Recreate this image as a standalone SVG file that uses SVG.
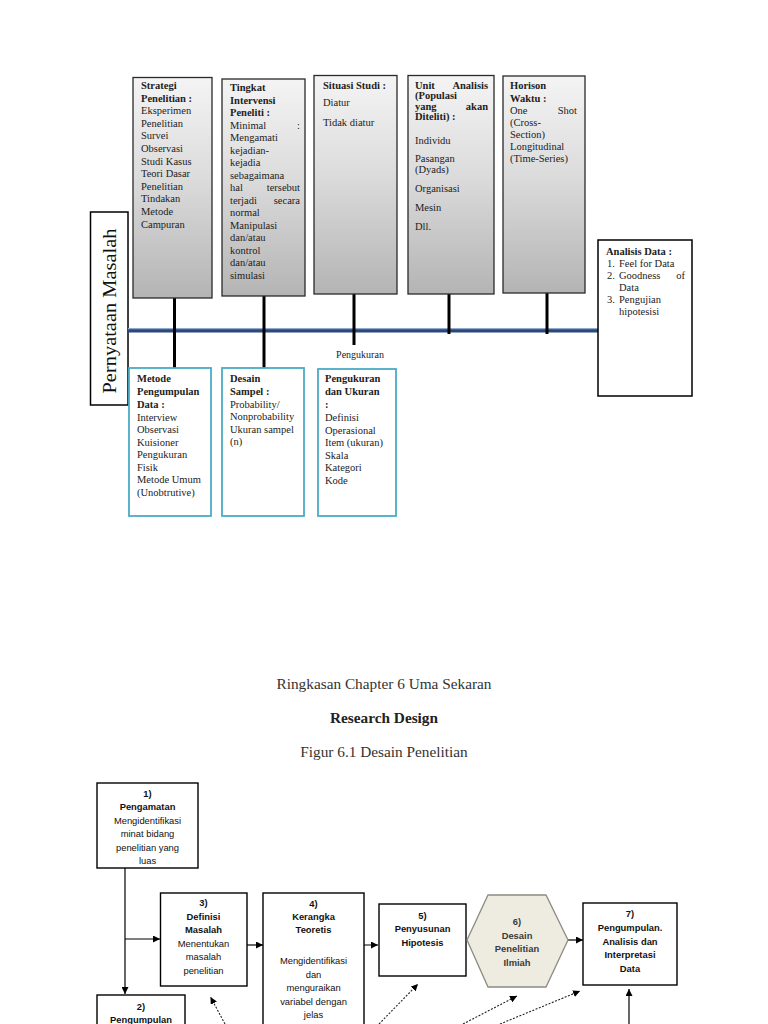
<svg xmlns="http://www.w3.org/2000/svg" width="768" height="1024" viewBox="0 0 768 1024">
<defs>
<linearGradient id="gbox" x1="0" y1="0" x2="0" y2="1">
<stop offset="0" stop-color="#f4f4f4"/>
<stop offset="0.45" stop-color="#dcdcdc"/>
<stop offset="1" stop-color="#b4b4b4"/>
</linearGradient>
<marker id="ah" viewBox="0 0 10 10" refX="10" refY="5" markerWidth="7" markerHeight="7" orient="auto" markerUnits="userSpaceOnUse">
<path d="M0,0 L10,5 L0,10 z" fill="#000"/>
</marker>
</defs>
<style>
.gb{fill:url(#gbox);stroke:#2a2a2a;stroke-width:1.3}
.wb{fill:#fff;stroke:#000;stroke-width:1.5}
.tb{fill:#fff;stroke:#4bacc6;stroke-width:1.8}
.t{font-family:"Liberation Serif","Times New Roman",serif;font-size:10.5px;fill:#222}
.b{font-weight:bold}
.vl{stroke:#000;stroke-width:3}
.fb{fill:#fff;stroke:#000;stroke-width:1.4}
.f{font-family:"Liberation Sans",Arial,sans-serif;font-size:9.4px;fill:#111;text-anchor:middle}
.fl{stroke:#000;stroke-width:1.2;fill:none}
.dl{stroke:#222;stroke-width:1.1;fill:none;stroke-dasharray:2 1.5}
.h{font-family:"Liberation Serif","Times New Roman",serif;font-size:15.3px;fill:#333;text-anchor:middle}
</style>

<g id="pernyataan">
<rect x="90.5" y="212" width="37.5" height="193" class="wb"/>
<text class="t" style="font-size:19px;fill:#111" text-anchor="middle" textLength="165" lengthAdjust="spacingAndGlyphs" transform="translate(116,311) rotate(-90)">Pernyataan Masalah</text>
</g>

<g id="connectors-top">
<rect x="128" y="328" width="470" height="4.5" fill="#2b4878"/>
<line x1="128" y1="328.6" x2="598" y2="328.6" stroke="#8fa9d2" stroke-width="1.2"/>
<line class="vl" x1="174.5" y1="298" x2="174.5" y2="368"/>
<line class="vl" x1="264" y1="296" x2="264" y2="368"/>
<line class="vl" x1="354" y1="294" x2="354" y2="345"/>
<line class="vl" x1="449" y1="294" x2="449" y2="334"/>
<line class="vl" x1="547" y1="293" x2="547" y2="334"/>
<text class="t" x="360" y="358" text-anchor="middle" style="font-size:10px">Pengukuran</text>
</g>

<g id="strategi">
<rect x="133" y="77.5" width="79" height="220.5" class="gb"/>
<text class="t b" x="141" y="89">Strategi</text>
<text class="t b" x="141" y="101.6">Penelitian :</text>
<text class="t" x="141" y="114.2">Eksperimen</text>
<text class="t" x="141" y="126.8">Penelitian</text>
<text class="t" x="141" y="139.4">Survei</text>
<text class="t" x="141" y="152">Observasi</text>
<text class="t" x="141" y="164.6">Studi Kasus</text>
<text class="t" x="141" y="177.2">Teori Dasar</text>
<text class="t" x="141" y="189.8">Penelitian</text>
<text class="t" x="141" y="202.4">Tindakan</text>
<text class="t" x="141" y="215">Metode</text>
<text class="t" x="141" y="227.6">Campuran</text>
</g>

<g id="tingkat">
<rect x="222" y="79" width="83" height="217" class="gb"/>
<text class="t b" x="230" y="91">Tingkat</text>
<text class="t b" x="230" y="103.5">Intervensi</text>
<text class="t b" x="230" y="116">Peneliti :</text>
<text class="t" x="230" y="128.5">Minimal</text><text class="t" x="300" y="128.5" text-anchor="end">:</text>
<text class="t" x="230" y="141">Mengamati</text>
<text class="t" x="230" y="153.5">kejadian-</text>
<text class="t" x="230" y="166">kejadia</text>
<text class="t" x="230" y="178.5">sebagaimana</text>
<text class="t" x="230" y="191">hal</text><text class="t" x="300" y="191" text-anchor="end">tersebut</text>
<text class="t" x="230" y="203.5">terjadi</text><text class="t" x="300" y="203.5" text-anchor="end">secara</text>
<text class="t" x="230" y="216">normal</text>
<text class="t" x="230" y="228.5">Manipulasi</text>
<text class="t" x="230" y="241">dan/atau</text>
<text class="t" x="230" y="253.5">kontrol</text>
<text class="t" x="230" y="266">dan/atau</text>
<text class="t" x="230" y="278.5">simulasi</text>
</g>

<g id="situasi">
<rect x="314" y="75.5" width="83" height="218.5" class="gb"/>
<text class="t b" x="323" y="89">Situasi Studi :</text>
<text class="t" x="323" y="106">Diatur</text>
<text class="t" x="323" y="126">Tidak diatur</text>
</g>

<g id="unit">
<rect x="408" y="75.5" width="86" height="218.5" class="gb"/>
<text class="t b" x="415" y="88.5">Unit</text><text class="t b" x="488" y="88.5" text-anchor="end">Analisis</text>
<text class="t b" x="415" y="99">(Populasi</text>
<text class="t b" x="415" y="109.5">yang</text><text class="t b" x="488" y="109.5" text-anchor="end">akan</text>
<text class="t b" x="415" y="120">Diteliti) :</text>
<text class="t" x="415" y="144">Individu</text>
<text class="t" x="415" y="162">Pasangan</text>
<text class="t" x="415" y="173">(Dyads)</text>
<text class="t" x="415" y="192">Organisasi</text>
<text class="t" x="415" y="211">Mesin</text>
<text class="t" x="415" y="229.5">Dll.</text>
</g>

<g id="horison">
<rect x="503" y="76" width="82" height="217" class="gb"/>
<text class="t b" x="510" y="89">Horison</text>
<text class="t b" x="510" y="101.5">Waktu :</text>
<text class="t" x="510" y="114">One</text><text class="t" x="577" y="114" text-anchor="end">Shot</text>
<text class="t" x="510" y="126">(Cross-</text>
<text class="t" x="510" y="138">Section)</text>
<text class="t" x="510" y="150">Longitudinal</text>
<text class="t" x="510" y="162">(Time-Series)</text>
</g>

<g id="analisis">
<rect x="598" y="240" width="94" height="156" class="wb"/>
<text class="t b" x="606" y="255">Analisis Data :</text>
<text class="t" x="607" y="266.5">1.</text><text class="t" x="619" y="266.5">Feel for Data</text>
<text class="t" x="607" y="278.5">2.</text><text class="t" x="619" y="278.5">Goodness</text><text class="t" x="685" y="278.5" text-anchor="end">of</text>
<text class="t" x="619" y="290.5">Data</text>
<text class="t" x="607" y="302.5">3.</text><text class="t" x="619" y="302.5">Pengujian</text>
<text class="t" x="619" y="314.5">hipotesisi</text>
</g>

<g id="metode">
<rect x="129" y="368" width="82" height="148" class="tb"/>
<text class="t b" x="137" y="382">Metode</text>
<text class="t b" x="137" y="395">Pengumpulan</text>
<text class="t b" x="137" y="408">Data :</text>
<text class="t" x="137" y="420.5">Interview</text>
<text class="t" x="137" y="433">Observasi</text>
<text class="t" x="137" y="445.5">Kuisioner</text>
<text class="t" x="137" y="458">Pengukuran</text>
<text class="t" x="137" y="470.5">Fisik</text>
<text class="t" x="137" y="483">Metode Umum</text>
<text class="t" x="137" y="495.5">(Unobtrutive)</text>
</g>

<g id="desain">
<rect x="222" y="368" width="82" height="148" class="tb"/>
<text class="t b" x="230" y="382">Desain</text>
<text class="t b" x="230" y="395">Sampel :</text>
<text class="t" x="230" y="407.5">Probability/</text>
<text class="t" x="230" y="420">Nonprobability</text>
<text class="t" x="230" y="432.5">Ukuran sampel</text>
<text class="t" x="230" y="445">(n)</text>
</g>

<g id="pengukuran">
<rect x="318" y="369" width="78" height="147" class="tb"/>
<text class="t b" x="325" y="382">Pengukuran</text>
<text class="t b" x="325" y="395">dan Ukuran</text>
<text class="t b" x="325" y="408">:</text>
<text class="t" x="325" y="421">Definisi</text>
<text class="t" x="325" y="433.5">Operasional</text>
<text class="t" x="325" y="446">Item (ukuran)</text>
<text class="t" x="325" y="458.5">Skala</text>
<text class="t" x="325" y="471">Kategori</text>
<text class="t" x="325" y="483.5">Kode</text>
</g>

<g id="titles">
<text class="h" x="384" y="689">Ringkasan Chapter 6 Uma Sekaran</text>
<text class="h" x="384" y="723" style="font-weight:bold;fill:#222">Research Design</text>
<text class="h" x="384" y="757">Figur 6.1 Desain Penelitian</text>
</g>

<g id="connectors-flow">
<line class="fl" x1="125" y1="868" x2="125" y2="994" marker-end="url(#ah)"/>
<line class="fl" x1="125" y1="939" x2="160" y2="939" marker-end="url(#ah)"/>
<line class="fl" x1="247" y1="945" x2="263" y2="945" marker-end="url(#ah)"/>
<line class="fl" x1="263" y1="945" x2="378" y2="945" marker-end="url(#ah)"/>
<line class="fl" x1="568" y1="940" x2="583" y2="940" marker-end="url(#ah)"/>
<line class="fl" x1="629" y1="1026" x2="629" y2="989" marker-end="url(#ah)"/>
<line class="dl" x1="225" y1="1024" x2="210.5" y2="997" marker-end="url(#ah)"/>
<line class="dl" x1="379" y1="1024" x2="418" y2="984" marker-end="url(#ah)"/>
<line class="dl" x1="463" y1="1024" x2="517" y2="996" marker-end="url(#ah)"/>
<line class="dl" x1="500" y1="1024" x2="580" y2="991" marker-end="url(#ah)"/>
</g>

<g id="n1">
<rect x="97" y="783" width="101" height="85" class="fb"/>
<text class="f b" x="147.5" y="797">1)</text>
<text class="f b" x="147.5" y="810">Pengamatan</text>
<text class="f" x="147.5" y="823.5">Mengidentifikasi</text>
<text class="f" x="147.5" y="837">minat bidang</text>
<text class="f" x="147.5" y="850.5">penelitian yang</text>
<text class="f" x="147.5" y="864">luas</text>
</g>

<g id="n2">
<rect x="97" y="995" width="88" height="40" class="fb"/>
<text class="f b" x="141" y="1010">2)</text>
<text class="f b" x="141" y="1023">Pengumpulan</text>
</g>

<g id="n3">
<rect x="160.5" y="893" width="86.5" height="93" class="fb"/>
<text class="f b" x="203.5" y="906">3)</text>
<text class="f b" x="203.5" y="920">Definisi</text>
<text class="f b" x="203.5" y="933">Masalah</text>
<text class="f" x="203.5" y="946.5">Menentukan</text>
<text class="f" x="203.5" y="960">masalah</text>
<text class="f" x="203.5" y="973.5">penelitian</text>
</g>

<g id="n4">
<rect x="263" y="893" width="101" height="140" class="fb"/>
<text class="f b" x="313.5" y="907">4)</text>
<text class="f b" x="313.5" y="920">Kerangka</text>
<text class="f b" x="313.5" y="933">Teoretis</text>
<text class="f" x="313.5" y="964">Mengidentifikasi</text>
<text class="f" x="313.5" y="977.5">dan</text>
<text class="f" x="313.5" y="991">menguraikan</text>
<text class="f" x="313.5" y="1004.5">variabel dengan</text>
<text class="f" x="313.5" y="1018">jelas</text>
</g>

<g id="n5">
<rect x="379" y="904" width="87" height="72" class="fb"/>
<text class="f b" x="422.5" y="919">5)</text>
<text class="f b" x="422.5" y="932">Penyusunan</text>
<text class="f b" x="422.5" y="945.5">Hipotesis</text>
</g>

<g id="n6">
<polygon points="467,940 488,895 546,895 568,940 546,987 488,987" fill="#eeece1" stroke="#8c8c82" stroke-width="1.3"/>
<text class="f b" x="517" y="925" style="fill:#3a3a3a">6)</text>
<text class="f b" x="517" y="938.5" style="fill:#3a3a3a">Desain</text>
<text class="f b" x="517" y="952" style="fill:#3a3a3a">Penelitian</text>
<text class="f b" x="517" y="965.5" style="fill:#3a3a3a">Ilmiah</text>
</g>

<g id="n7">
<rect x="583" y="903" width="94" height="82" class="fb"/>
<text class="f b" x="630" y="917">7)</text>
<text class="f b" x="630" y="931">Pengumpulan.</text>
<text class="f b" x="630" y="944.5">Analisis dan</text>
<text class="f b" x="630" y="958">Interpretasi</text>
<text class="f b" x="630" y="971.5">Data</text>
</g>
</svg>
